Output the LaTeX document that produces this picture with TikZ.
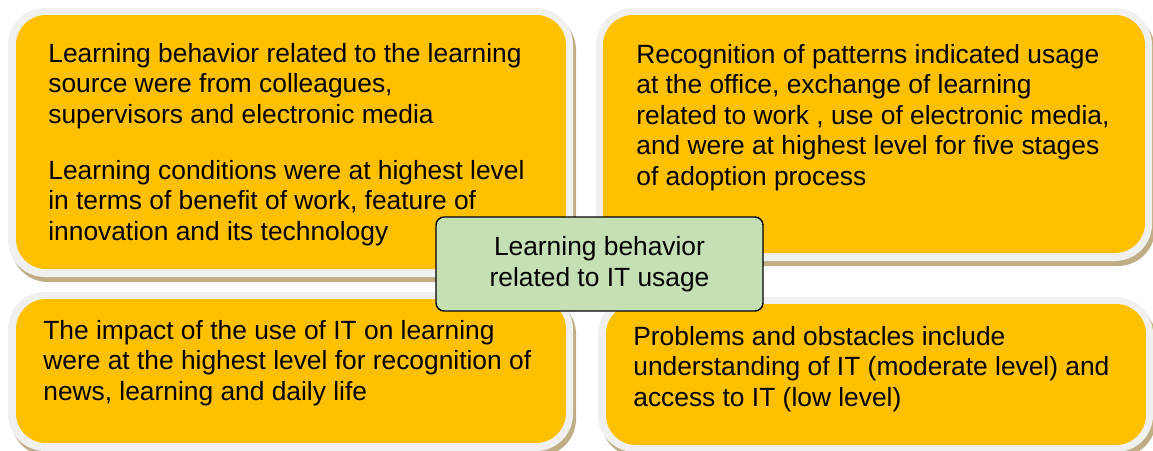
\documentclass[tikz,border=0pt]{standalone}
\usepackage{fontspec}
\setmainfont{Liberation Sans}
\definecolor{boxorange}{RGB}{255,192,0}
\definecolor{boxrim}{RGB}{240,240,240}
\definecolor{boxshade}{RGB}{191,174,133}
\definecolor{hubgreen}{RGB}{197,224,180}
\tikzset{
  txt/.style={anchor=north west,inner sep=0pt,align=left,font=\fontsize{15}{17.35}\selectfont},
  hub/.style={draw=black,fill=hubgreen,line width=0.8pt,rounded corners=0.16cm,minimum width=6.54cm,minimum height=1.88cm,align=center,inner sep=0pt,font=\fontsize{15}{17.35}\selectfont},
}
\begin{document}
\begin{tikzpicture}[x=0.02cm,y=-0.02cm]
\useasboundingbox (0,0) rectangle (1153,450);
\fill[white] (0,0) rectangle (1153,450);

% top left box
\fill[boxshade,rounded corners=0.74cm] (11,13) rectangle (576,282);
\fill[boxrim,rounded corners=0.74cm] (8,8) rectangle (573,277);
\fill[boxorange,rounded corners=0.6cm] (16,15) rectangle (566,269);

% top right box
\fill[boxshade,rounded corners=0.74cm] (599,13) rectangle (1155,266);
\fill[boxrim,rounded corners=0.74cm] (596,8) rectangle (1152,261);
\fill[boxorange,rounded corners=0.6cm] (603,15) rectangle (1145,253);

% bottom left box
\fill[boxshade,rounded corners=0.74cm] (11,297) rectangle (576,456);
\fill[boxrim,rounded corners=0.74cm] (8,292) rectangle (573,451);
\fill[boxorange,rounded corners=0.6cm] (16,299) rectangle (566,443);

% bottom right box
\fill[boxshade,rounded corners=0.74cm] (601,302) rectangle (1156,457);
\fill[boxrim,rounded corners=0.74cm] (598,297) rectangle (1153,452);
\fill[boxorange,rounded corners=0.6cm] (606,304) rectangle (1146,445);

% texts
\node[txt] (source) at (48,42.8) {Learning behavior related to the learning\\source were from colleagues,\\supervisors and electronic media};
\node[txt] (cond) at (48,159.8) {Learning conditions were at highest level\\in terms of benefit of work, feature of\\innovation and its technology};
\node[txt] (pattern) at (636,43.8) {Recognition of patterns indicated usage\\at the office, exchange of learning\\related to work , use of electronic media,\\and were at highest level for five stages\\of adoption process};
\node[txt] (impact) at (43,319.8) {The impact of the use of IT on learning\\were at the highest level for recognition of\\news, learning and daily life};
\node[txt] (problem) at (633,325.8) {Problems and obstacles include\\understanding of IT (moderate level) and\\access to IT (low level)};

% centre
\node[hub] (centre) at (599.5,264) {Learning behavior\\related to IT usage};
\end{tikzpicture}
\end{document}
